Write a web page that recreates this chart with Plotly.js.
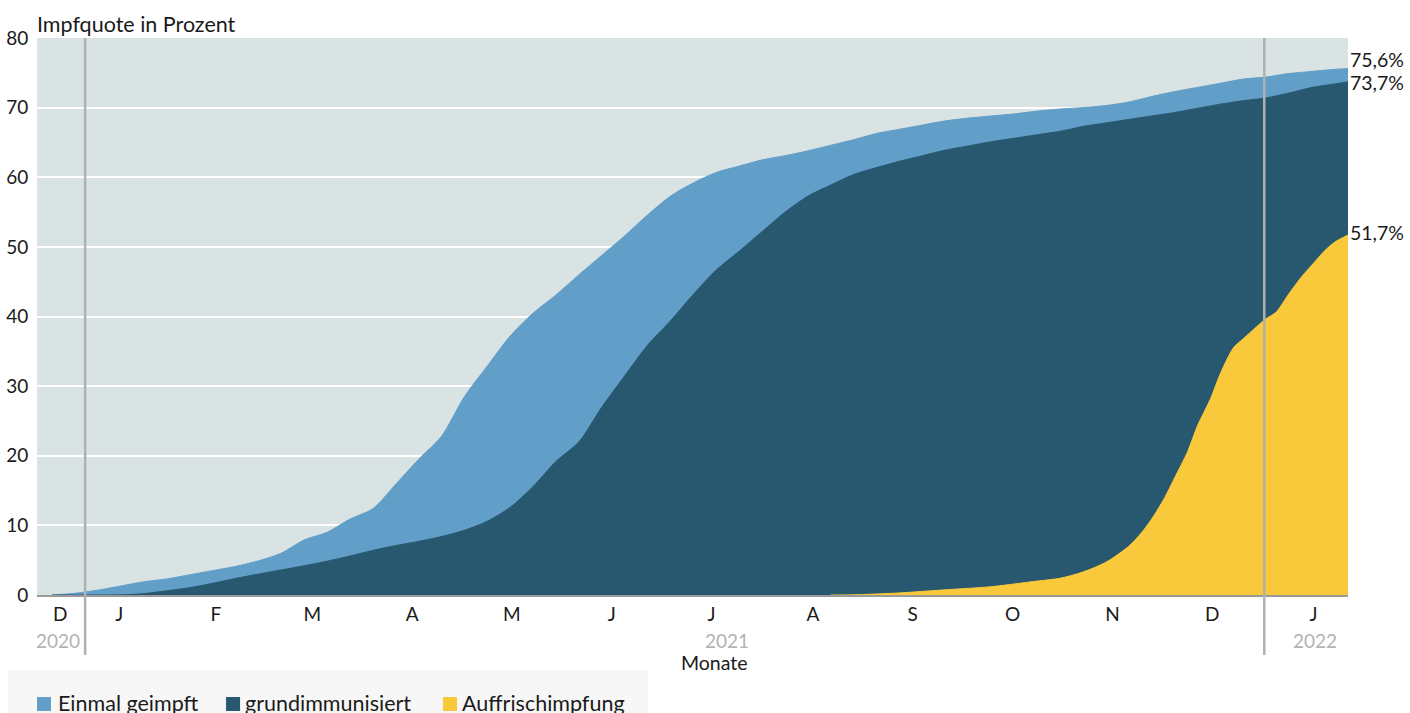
<!DOCTYPE html>
<html><head><meta charset="utf-8">
<script src="https://cdn.plot.ly/plotly-3.0.1.min.js"></script>
<style>html,body{margin:0;padding:0;background:#fff}#chart{width:1410px;height:713px}</style>
</head><body><div id="chart"></div>
<script>
// Weekly reading dates for the two blue series
const weekDates = ['2020-12-27','2021-01-03','2021-01-10','2021-01-17','2021-01-24','2021-01-31','2021-02-07','2021-02-14','2021-02-21','2021-02-28',
'2021-03-07','2021-03-14','2021-03-21','2021-03-28','2021-04-04','2021-04-11','2021-04-18','2021-04-25','2021-05-02','2021-05-09',
'2021-05-16','2021-05-23','2021-05-30','2021-06-06','2021-06-13','2021-06-20','2021-06-27','2021-07-04','2021-07-11','2021-07-18',
'2021-07-25','2021-08-01','2021-08-08','2021-08-15','2021-08-22','2021-08-29','2021-09-05','2021-09-12','2021-09-19','2021-09-26',
'2021-10-03','2021-10-10','2021-10-17','2021-10-24','2021-10-31','2021-11-07','2021-11-14','2021-11-21','2021-11-28','2021-12-05',
'2021-12-12','2021-12-19','2021-12-26','2022-01-02','2022-01-09','2022-01-16','2022-01-23','2022-01-27'];
const einmalGeimpft = [0.0,0.25,0.7,1.3,1.9,2.3,2.9,3.5,4.1,4.9,
6.0,7.9,9.0,10.9,12.4,15.9,19.5,22.8,28.5,32.9,
37.2,40.5,43.1,46.0,48.8,51.6,54.6,57.3,59.2,60.7,
61.6,62.5,63.1,63.8,64.6,65.4,66.3,66.9,67.5,68.1,
68.5,68.8,69.1,69.5,69.8,70.0,70.3,70.8,71.6,72.3,
72.9,73.5,74.1,74.4,74.9,75.2,75.5,75.6];
const grundimmunisiert = [0,0,0,0.02,0.2,0.6,1.05,1.67,2.37,3.0,
3.6,4.2,4.85,5.6,6.4,7.1,7.7,8.4,9.3,10.6,
12.6,15.6,19.2,22.0,27.0,31.5,35.9,39.4,43.2,46.7,
49.4,52.2,55.0,57.3,58.9,60.4,61.4,62.3,63.1,63.9,
64.5,65.1,65.6,66.1,66.6,67.3,67.8,68.3,68.8,69.3,
69.9,70.5,71.0,71.4,72.1,72.9,73.4,73.7];
// Booster series (denser readings where it rises steeply)
const boosterDates = ['2021-08-22','2021-08-29','2021-09-12','2021-09-26','2021-10-10','2021-10-24','2021-10-31','2021-11-07','2021-11-14','2021-11-21',
'2021-11-25','2021-11-28','2021-12-02','2021-12-05','2021-12-09','2021-12-12','2021-12-16','2021-12-19','2021-12-23','2021-12-26',
'2021-12-30','2022-01-02','2022-01-05','2022-01-09','2022-01-13','2022-01-16','2022-01-20','2022-01-23','2022-01-27'];
const auffrischimpfung = [0,0.03,0.3,0.75,1.2,2.0,2.4,3.3,4.7,7.0,
9.0,10.9,14.0,16.8,20.6,24.3,28.2,31.8,35.5,36.8,
38.5,39.7,40.6,43.3,45.8,47.4,49.5,50.7,51.7];

const seriesNames = ['Einmal geimpft','grundimmunisiert','Auffrischimpfung'];
const seriesColors = ['#619ec8','#28586f','#f9c93b'];
const endLabels = ['75,6%','73,7%','51,7%'];
const endValues = [75.6, 73.7, 51.7];

const monthTickDates = ['2020-12-29 12:00','2021-01-16 12:00','2021-02-15','2021-03-16 12:00','2021-04-16','2021-05-16 12:00','2021-06-16',
'2021-07-16 12:00','2021-08-16 12:00','2021-09-16','2021-10-16 12:00','2021-11-16','2021-12-16 12:00','2022-01-16 12:00'];
const monthTickLabels = ['D','J','F','M','A','M','J','J','A','S','O','N','D','J'];
const yearLabels = ['2020','2021','2022'];
const yearLabelPos = [0.016, 0.5263, 0.9748];
const yearSeparators = ['2021-01-06 02:00','2022-01-01 10:00'];
const yTicks = [0,10,20,30,40,50,60,70,80];
const xAxisTitle = 'Monate';

const xs = [weekDates, weekDates, boosterDates];
const ys = [einmalGeimpft, grundimmunisiert, auffrischimpfung];
const traces = ys.map((y,i)=>({
  type:'scatter', mode:'lines', x:xs[i], y:y, name:seriesNames[i],
  fill:'tozeroy', fillcolor:seriesColors[i],
  line:{color:seriesColors[i], width:1, shape:'spline', smoothing:0.8},
  hoverinfo:'x+y'
}));

const FONT = 'Lato, "Source Sans Pro", "Noto Sans", sans-serif';
const shapes = [];
yearSeparators.forEach(d=>shapes.push({type:'line', xref:'x', yref:'paper', x0:d, x1:d, y0:-0.1077, y1:1, line:{color:'#b0b0b0', width:2.5}, layer:'above'}));
// legend background and swatches
shapes.push({type:'rect', xref:'paper', yref:'paper', x0:-0.0221, x1:0.466, y0:-0.2118, y1:-0.1346, fillcolor:'#f7f7f7', line:{width:0}, layer:'below'});
const swX = [0, 0.1442, 0.3097];
const txX = [0.0145, 0.1572, 0.3227];
swX.forEach((x,i)=>shapes.push({type:'rect', xref:'paper', yref:'paper', x0:x, x1:x+0.0107, y0:-0.2083, y1:-0.1831, fillcolor:seriesColors[i], line:{width:0}}));

const annotations = [];
seriesNames.forEach((n,i)=>annotations.push({xref:'paper', yref:'paper', x:txX[i], y:-0.1935, xanchor:'left', yanchor:'middle', text:n, showarrow:false, font:{size:21.5, color:'#1a1a1a'}}));
yearLabels.forEach((t,i)=>annotations.push({xref:'paper', yref:'paper', x:yearLabelPos[i], y:-0.0808, xanchor:'center', yanchor:'middle', text:t, showarrow:false, font:{size:19, color:'#b3b3b3'}}));
annotations.push({xref:'paper', yref:'paper', x:0.5164, y:-0.1203, xanchor:'center', yanchor:'middle', text:xAxisTitle, showarrow:false, font:{size:19.5, color:'#1a1a1a'}});
const endShift = [9,-1,3];
endLabels.forEach((t,i)=>annotations.push({xref:'paper', yref:'y', x:1, y:endValues[i], xanchor:'left', yanchor:'middle', xshift:0, yshift:endShift[i], text:t, showarrow:false, font:{size:19.5, color:'#1a1a1a'}}));

const layout = {
  width:1410, height:713,
  margin:{l:37, r:62, t:38, b:118, pad:0},
  paper_bgcolor:'#ffffff', plot_bgcolor:'#dae3e4',
  font:{family:FONT, size:19, color:'#1a1a1a'},
  title:{text:'Impfquote in Prozent', xref:'container', x:37/1410, xanchor:'left', yref:'container', y:1-24/713, yanchor:'middle', font:{family:FONT, size:21.5, color:'#1a1a1a'}},
  showlegend:false,
  xaxis:{type:'date', range:['2020-12-22 09:00','2022-01-27'], tickmode:'array', tickvals:monthTickDates, ticktext:monthTickLabels,
    showgrid:false, zeroline:false, showline:true, linecolor:'#9a9a9a', linewidth:2, ticks:'outside', ticklen:1, tickcolor:'rgba(0,0,0,0)',
    tickfont:{size:19}, automargin:false, fixedrange:true},
  yaxis:{range:[0,80], tickmode:'array', tickvals:yTicks, showgrid:true, gridcolor:'#ffffff', gridwidth:2, zeroline:false, showline:false,
    ticks:'outside', ticklen:4, tickcolor:'rgba(0,0,0,0)', tickfont:{size:19}, automargin:false, fixedrange:true},
  shapes:shapes, annotations:annotations
};
Plotly.newPlot('chart', traces, layout, {displayModeBar:false, staticPlot:true});
</script></body></html>
